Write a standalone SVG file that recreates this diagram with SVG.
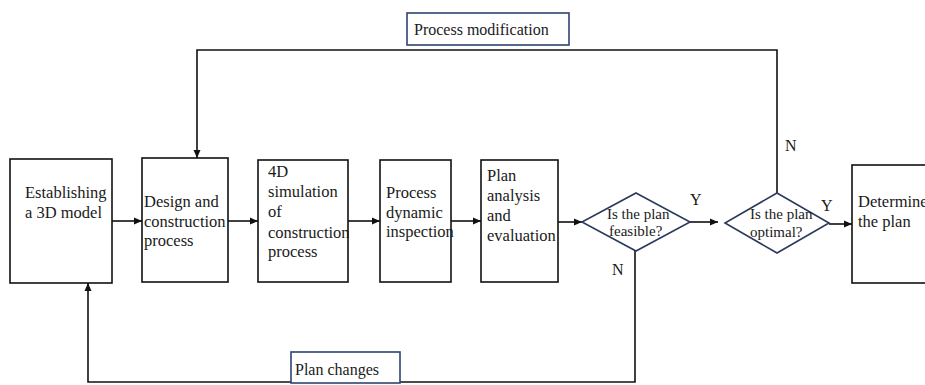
<svg xmlns="http://www.w3.org/2000/svg" width="925" height="385" viewBox="0 0 925 385">
<defs>
<marker id="ah" viewBox="0 0 8 8" refX="8" refY="4" markerWidth="8" markerHeight="8" markerUnits="userSpaceOnUse" orient="auto">
<path d="M0,0.5 L8,4 L0,7.5 Z" fill="#111"/>
</marker>
<style>
.box{fill:#fff;stroke:#111;stroke-width:1.6}
.dia{fill:#fff;stroke:#2b3a5c;stroke-width:1.6}
.lbl{fill:#fff;stroke:#2e4470;stroke-width:1.6}
.t{font-family:"Liberation Serif","Times New Roman",serif;font-size:16.5px;fill:#1a1a1a}
.s{font-family:"Liberation Serif","Times New Roman",serif;font-size:15px;fill:#1a1a1a}
.l{font-family:"Liberation Serif","Times New Roman",serif;font-size:16px;fill:#1a1a1a}
.c{fill:none;stroke:#111;stroke-width:1.6}
</style>
</defs>
<rect width="925" height="385" fill="#fff"/>
<g id="connectors">
<line class="c" x1="112" y1="221" x2="142" y2="221" marker-end="url(#ah)"/>
<line class="c" x1="228" y1="221" x2="258" y2="221" marker-end="url(#ah)"/>
<line class="c" x1="348" y1="221" x2="380" y2="221" marker-end="url(#ah)"/>
<line class="c" x1="451" y1="221" x2="481" y2="221" marker-end="url(#ah)"/>
<line class="c" x1="558" y1="222" x2="582" y2="222" marker-end="url(#ah)"/>
<line class="c" x1="690" y1="222" x2="718" y2="222" marker-end="url(#ah)"/>
<line class="c" x1="829" y1="224" x2="852" y2="224" marker-end="url(#ah)"/>
<polyline class="c" points="777,193 777,50 197,50 197,158" marker-end="url(#ah)"/>
<polyline class="c" points="635,251 635,382 88,382 88,283" marker-end="url(#ah)"/>
</g>
<g id="n1"><rect class="box" x="10" y="159" width="102" height="124"/>
<text class="t" x="25" y="198">Establishing</text><text class="t" x="25" y="218">a 3D model</text></g>
<g id="n2"><rect class="box" x="142" y="158" width="86" height="124"/>
<text class="t" x="144" y="207">Design and</text><text class="t" x="144" y="227">construction</text><text class="t" x="144" y="246">process</text></g>
<g id="n3"><rect class="box" x="258" y="160" width="90" height="122"/>
<text class="t" x="268" y="177">4D</text><text class="t" x="268" y="197">simulation</text><text class="t" x="268" y="217">of</text><text class="t" x="268" y="238">construction</text><text class="t" x="268" y="257">process</text></g>
<g id="n4"><rect class="box" x="380" y="160" width="71" height="122"/>
<text class="t" x="386" y="198">Process</text><text class="t" x="386" y="218">dynamic</text><text class="t" x="386" y="237">inspection</text></g>
<g id="n5"><rect class="box" x="481" y="160" width="77" height="122"/>
<text class="t" x="487" y="181">Plan</text><text class="t" x="487" y="201">analysis</text><text class="t" x="487" y="221">and</text><text class="t" x="487" y="241">evaluation</text></g>
<g id="d1"><polygon class="dia" points="636,193 690,222 636,251 582,222"/>
<text class="s" x="607" y="219">Is the plan</text><text class="s" x="609" y="236">feasible?</text></g>
<g id="d2"><polygon class="dia" points="777,193 829,223 777,253 725,223"/>
<text class="s" x="750" y="219">Is the plan</text><text class="s" x="750" y="237">optimal?</text></g>
<g id="n6"><rect class="box" x="852" y="165" width="100" height="118"/>
<text class="t" x="858" y="207">Determine</text><text class="t" x="858" y="227">the plan</text></g>
<g id="lab1"><rect class="lbl" x="407" y="13" width="162" height="32"/>
<text class="l" x="414" y="35">Process modification</text></g>
<g id="lab2"><rect class="lbl" x="291" y="352" width="109" height="31"/>
<text class="l" x="295" y="375">Plan changes</text></g>
<g id="yn">
<text class="l" x="690" y="205">Y</text>
<text class="l" x="821" y="211">Y</text>
<text class="l" x="612" y="275">N</text>
<text class="l" x="785" y="151">N</text>
</g>
</svg>
